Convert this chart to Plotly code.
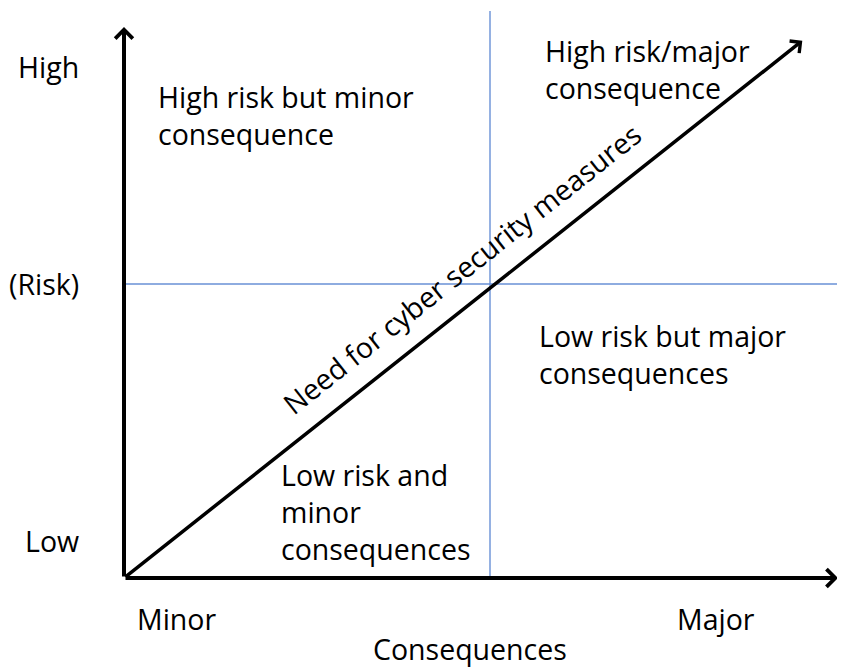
import plotly.graph_objects as go

# ---- content (conceptual risk/consequence matrix) ----
risk_levels = ["High", "(Risk)", "Low"]
risk_level_pos = [9.28, 5.34, 0.68]
consequence_levels = ["Minor", "Major"]
consequence_level_pos = [0.74, 8.29]
x_title = "Consequences"
quadrant_labels = [
    "High risk but minor<br>consequence",
    "High risk/major<br>consequence",
    "Low risk but major<br>consequences",
    "Low risk and<br>minor<br>consequences",
]
quadrant_x = [0.45, 5.87, 5.78, 2.17]
quadrant_y = [8.40, 9.22, 4.05, 1.20]
diagonal_label = "Need for cyber security measures"
divider_x = 5.126   # consequence split
divider_y = 5.336   # risk split
axis_max = 10.0
diag_tip = (9.50, 9.75)

FONT = "Open Sans, Noto Sans, sans-serif"
FS = 28.5
BLUE = "#6890d6"

# page body has an 8px margin; figure sized to fit the window
W, H = 837, 660
OX, OY = 116, 570   # origin in figure pixels
SX, SY = 71.4, 55.1

fig = go.Figure()
fig.add_trace(go.Scatter(x=[0], y=[0], mode="markers", marker=dict(opacity=0), hoverinfo="skip", showlegend=False))

shapes = [
    dict(type="line", xref="x", yref="y", x0=divider_x, x1=divider_x, y0=0, y1=10.29,
         line=dict(color=BLUE, width=1.4)),
    dict(type="line", xref="x", yref="y", x0=0, x1=10.2, y0=divider_y, y1=divider_y,
         line=dict(color=BLUE, width=1.4)),
]

annotations = []
# axis arrows
for (tx, ty) in [(0, axis_max), (axis_max, 0), diag_tip]:
    w = 3.5 if (tx, ty) == diag_tip else 4
    annotations.append(dict(x=tx, y=ty, ax=0, ay=0, xref="x", yref="y", axref="x", ayref="y",
                            text="", showarrow=True, arrowhead=4, arrowsize=0.85,
                            arrowwidth=w, arrowcolor="black", standoff=0, startstandoff=0))
# risk level labels
for t, yv in zip(risk_levels, risk_level_pos):
    annotations.append(dict(x=-0.60, y=yv, xref="x", yref="y", text=t, showarrow=False,
                            xanchor="right", yanchor="middle",
                            font=dict(family=FONT, size=FS, color="black")))
# consequence labels
for t, xv in zip(consequence_levels, consequence_level_pos):
    annotations.append(dict(x=xv, y=-0.744, xref="x", yref="y", text=t, showarrow=False,
                            xanchor="center", yanchor="middle",
                            font=dict(family=FONT, size=FS, color="black")))
annotations.append(dict(x=4.85, y=-1.29, xref="x", yref="y", text=x_title, showarrow=False,
                        xanchor="center", yanchor="middle",
                        font=dict(family=FONT, size=FS, color="black")))
# quadrant labels
for t, xv, yv in zip(quadrant_labels, quadrant_x, quadrant_y):
    annotations.append(dict(x=xv, y=yv, xref="x", yref="y", text=t, showarrow=False,
                            xanchor="left", yanchor="middle", align="left",
                            font=dict(family=FONT, size=FS, color="black")))
# diagonal label
annotations.append(dict(x=4.73, y=5.60, xref="x", yref="y", text=diagonal_label, showarrow=False,
                        textangle=-38.4, xanchor="center", yanchor="middle",
                        font=dict(family=FONT, size=FS, color="black")))

fig.update_layout(
    width=W, height=H,
    margin=dict(l=0, r=0, t=0, b=0),
    paper_bgcolor="white", plot_bgcolor="white",
    xaxis=dict(range=[-OX / SX, (W - OX) / SX], visible=False, fixedrange=True),
    yaxis=dict(range=[-(H - OY) / SY, OY / SY], visible=False, fixedrange=True),
    shapes=shapes, annotations=annotations, showlegend=False,
)
fig.write_html("out.html")
